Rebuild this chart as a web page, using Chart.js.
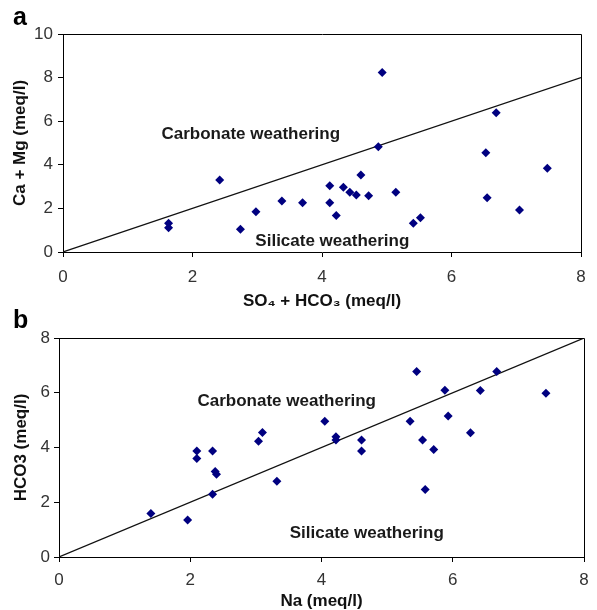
<!DOCTYPE html>
<html>
<head>
<meta charset="utf-8">
<script src="https://cdn.jsdelivr.net/npm/chart.js@4"></script>
<style>
  body { margin: 0; background: #fff; }
  .panel { position: absolute; left: 0; width: 597px; height: 310px; }
</style>
</head>
<body>
<div class="panel" style="top:0"><canvas id="chartA" width="597" height="310"></canvas></div>
<div class="panel" style="top:300px"><canvas id="chartB" width="597" height="310"></canvas></div>
<script>
// panel a : SO4 + HCO3 vs Ca + Mg
const aX = [1.63, 1.63, 2.42, 2.74, 2.98, 3.38, 3.70, 4.12, 4.12, 4.22, 4.33, 4.43, 4.53,
            4.60, 4.72, 4.87, 4.93, 5.14, 5.41, 5.52, 6.53, 6.55, 6.69, 7.05, 7.48];
const aY = [1.32, 1.11, 3.30, 1.04, 1.85, 2.34, 2.26, 3.04, 2.26, 1.67, 2.97, 2.74, 2.61,
            3.53, 2.58, 4.83, 8.23, 2.74, 1.32, 1.57, 4.55, 2.49, 6.39, 1.93, 3.84];

// panel b : Na vs HCO3
const bX = [1.40, 1.96, 2.10, 2.10, 2.34, 2.38, 2.40, 2.34, 3.04, 3.10, 3.32, 4.05, 4.22, 4.22,
            4.61, 4.61, 5.35, 5.45, 5.54, 5.58, 5.71, 5.88, 5.93, 6.27, 6.42, 6.67, 7.42];
const bY = [1.59, 1.35, 3.87, 3.60, 3.87, 3.12, 3.02, 2.29, 4.23, 4.55, 2.77, 4.96, 4.39, 4.27,
            4.27, 3.87, 4.96, 6.78, 4.27, 2.47, 3.93, 6.09, 5.15, 4.54, 6.08, 6.78, 5.98];

// 1:1 line
const lineX = [0, 8];
const lineY = [0, 8];

const aTicksX = [0, 2, 4, 6, 8];
const aTicksY = [0, 2, 4, 6, 8, 10];
const bTicksX = [0, 2, 4, 6, 8];
const bTicksY = [0, 2, 4, 6, 8];

const FONT = 'Arial, "Liberation Sans", sans-serif';

function toPoints(xs, ys) {
  return xs.map((x, i) => ({ x: x, y: ys[i] }));
}

// frame on top/right, panel letter and the two region labels
const decor = {
  id: 'decor',
  afterDatasetsDraw(chart, args, opts) {
    const ctx = chart.ctx;
    const area = chart.chartArea;
    const xs = chart.scales.x, ys = chart.scales.y;
    ctx.save();
    ctx.strokeStyle = '#000';
    ctx.lineWidth = 1;
    ctx.beginPath();
    ctx.moveTo(Math.round(area.left) + 0.5, Math.round(area.top) + 0.5);
    ctx.lineTo(Math.round(area.right) + 0.5, Math.round(area.top) + 0.5);
    ctx.lineTo(Math.round(area.right) + 0.5, Math.round(area.bottom) + 0.5);
    ctx.stroke();

    ctx.fillStyle = '#1a1a1a';
    ctx.font = 'bold 17px ' + FONT;
    ctx.textAlign = 'center';
    ctx.textBaseline = 'middle';
    opts.labels.forEach(l => {
      ctx.fillText(l.text, xs.getPixelForValue(l.x), ys.getPixelForValue(l.y));
    });

    ctx.fillStyle = '#000';
    ctx.font = 'bold 25px ' + FONT;
    ctx.textAlign = 'left';
    ctx.textBaseline = 'alphabetic';
    ctx.fillText(opts.letter, 13, opts.letterY);
    ctx.restore();
  }
};

function makeChart(id, px, py, xTicks, yTicks, xTitle, yTitle, pad, axisW, axisH, tickPadX, tickPadY, titlePad, decorOpts) {
  new Chart(document.getElementById(id), {
    data: {
      datasets: [
        {
          type: 'scatter',
          data: toPoints(px, py),
          backgroundColor: '#000080',
          borderColor: '#000080',
          pointStyle: 'rectRot',
          pointRadius: 4.5,
          borderWidth: 0
        },
        {
          type: 'line',
          data: toPoints(lineX, lineY),
          borderColor: '#111',
          borderWidth: 1.2,
          pointRadius: 0,
          fill: false
        }
      ]
    },
    options: {
      responsive: false,
      animation: false,
      layout: { padding: pad },
      plugins: {
        legend: { display: false },
        tooltip: { enabled: false },
        decor: decorOpts
      },
      scales: {
        x: {
          type: 'linear',
          min: xTicks[0],
          max: xTicks[xTicks.length - 1],
          afterBuildTicks: s => { s.ticks = xTicks.map(v => ({ value: v })); },
          afterFit: s => { s.height = axisH; },
          grid: { drawOnChartArea: false, drawTicks: true, tickLength: 5, color: '#000' },
          border: { display: true, color: '#000', width: 1 },
          ticks: { color: '#333', padding: tickPadX, font: { family: FONT, size: 17 } },
          title: {
            display: true, text: xTitle, color: '#111',
            font: { family: FONT, size: 17, weight: 'bold', lineHeight: 1 },
            padding: { top: 0, bottom: 0.5 }
          }
        },
        y: {
          type: 'linear',
          min: yTicks[0],
          max: yTicks[yTicks.length - 1],
          afterBuildTicks: s => { s.ticks = yTicks.map(v => ({ value: v })); },
          afterFit: s => { s.width = axisW; },
          grid: { drawOnChartArea: false, drawTicks: true, tickLength: 5, color: '#000' },
          border: { display: true, color: '#000', width: 1 },
          ticks: { color: '#333', padding: tickPadY, font: { family: FONT, size: 17 } },
          title: {
            display: true, text: yTitle, color: '#111',
            font: { family: FONT, size: 17, weight: 'bold', lineHeight: 1 },
            padding: { top: titlePad, bottom: 0 }
          }
        }
      }
    },
    plugins: [decor]
  });
}

makeChart('chartA', aX, aY, aTicksX, aTicksY,
  'SO\u2084 + HCO\u2083 (meq/l)', 'Ca + Mg (meq/l)',
  { left: 0, top: 34, right: 16, bottom: 0 }, 63, 58, 10, 5, 11.5,
  {
    letter: 'a', letterY: 25,
    labels: [
      { text: 'Carbonate weathering', x: 2.90, y: 5.41 },
      { text: 'Silicate weathering', x: 4.16, y: 0.50 }
    ]
  });

makeChart('chartB', bX, bY, bTicksX, bTicksY,
  'Na (meq/l)', 'HCO3 (meq/l)',
  { left: 0, top: 38, right: 13, bottom: 0 }, 59, 53, 8, 4, 12.5,
  {
    letter: 'b', letterY: 28,
    labels: [
      { text: 'Carbonate weathering', x: 3.47, y: 5.70 },
      { text: 'Silicate weathering', x: 4.69, y: 0.88 }
    ]
  });
</script>
</body>
</html>
